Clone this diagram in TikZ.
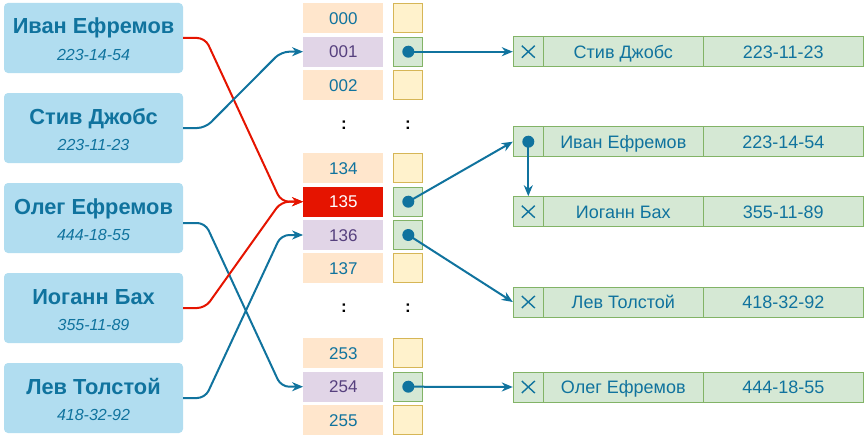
\documentclass[tikz,border=0pt]{standalone}
\usepackage{fontspec}
\setmainfont{Liberation Sans}
\usetikzlibrary{arrows.meta}
\definecolor{tblue}{HTML}{10739E}
\definecolor{tred}{HTML}{E51400}
\definecolor{boxblue}{HTML}{B1DDF0}
\definecolor{idxorange}{HTML}{FFE6CC}
\definecolor{idxpurple}{HTML}{E1D5E7}
\definecolor{txtpurple}{HTML}{56407E}
\definecolor{ptryellow}{HTML}{FFF2CC}
\definecolor{ptrline}{HTML}{D6B656}
\definecolor{recgreen}{HTML}{D5E8D4}
\definecolor{recline}{HTML}{82B366}
\begin{document}
\begin{tikzpicture}[x=1pt,y=-1pt,
	person/.style={fill=boxblue,rounded corners=4pt,minimum width=179pt,minimum height=70pt,inner sep=0pt},
	pname/.style={anchor=base,text=tblue,font=\fontsize{21.8}{22}\selectfont\bfseries},
	ptel/.style={anchor=base,text=tblue,font=\fontsize{16}{16}\selectfont\itshape},
	idx/.style={fill=idxorange,minimum width=80pt,minimum height=30pt,inner sep=0pt,text height=12.2pt,text depth=0pt,text=tblue,font=\fontsize{17}{17}\selectfont},
	idxsel/.style={idx,fill=idxpurple,text=txtpurple},
	idxhit/.style={idx,fill=tred,text=white},
	pempty/.style={draw=ptrline,fill=ptryellow,line width=1pt,minimum size=29pt,inner sep=0pt},
	pfull/.style={pempty,draw=recline,fill=recgreen},
	rec/.style={draw=recline,fill=recgreen,line width=1pt,minimum height=30pt,minimum width=160pt,inner sep=0pt,text height=12.9pt,text depth=0pt,text=tblue,font=\fontsize{18}{18}\selectfont},
	recptr/.style={rec,minimum width=30pt},
	ellip/.style={font=\fontsize{17}{17}\selectfont\bfseries},
	link/.style={tblue,line width=2pt,-{Stealth[length=11pt,width=9pt,inset=3.5pt]}},
	curvelink/.style={link,rounded corners=8pt}]
	\useasboundingbox (0,0) rectangle (864,436);
	
	\foreach \id/\name/\tel/\y in {ivan/Иван Ефремов/223-14-54/38, steve/Стив Джобс/223-11-23/128, oleg/Олег Ефремов/444-18-55/218, johann/Иоганн Бах/355-11-89/308, lev/Лев Толстой/418-32-92/398} {
		\node [person] (\id) at (93.5,\y) {};
		\node [pname,yshift=4pt] (\id-name) at (\id.center) {\name};
		\node [ptel,yshift=-22pt] (\id-tel) at (\id.center) {\tel};
	}
	
	\foreach \num/\y/\cell/\ptr in {000/18.3/idx/pempty, 001/51.7/idxsel/pfull, 002/85/idx/pempty, 134/168.3/idx/pempty, 135/201.7/idxhit/pfull, 136/235/idxsel/pfull, 137/268.3/idx/pempty, 253/353.3/idx/pempty, 254/386.7/idxsel/pfull, 255/420/idx/pempty} {
		\node [\cell] (h\num) at (343.3,\y) {\num};
		\node [\ptr] (p\num) at (408.3,\y) {};
	}
	\foreach \num in {001,135,136,254}
		\fill [tblue] (p\num.center) circle [radius=6pt];
	
	\node [ellip] (gap1) at (344,125) {:};
	\node [ellip] (gap2) at (408,125) {:};
	\node [ellip] (gap3) at (344,308) {:};
	\node [ellip] (gap4) at (408,308) {:};
	
	\foreach \id/\name/\tel/\y in {rsteve/Стив Джобс/223-11-23/51.7, rivan/Иван Ефремов/223-14-54/141.7, rjohann/Иоганн Бах/355-11-89/211.7, rlev/Лев Толстой/418-32-92/302, roleg/Олег Ефремов/444-18-55/387} {
		\node [recptr] (\id-ptr) at (528.3,\y) {};
		\node [rec] (\id-n) at (623.3,\y) {\name};
		\node [rec] (\id-t) at (783.3,\y) {\tel};
	}
	\foreach \id in {rsteve,rjohann,rlev,roleg}
		\draw [tblue,line width=1.4pt] ([shift={(-6.5pt,6pt)}]\id-ptr.center) -- ([shift={(6.5pt,-6pt)}]\id-ptr.center)
			([shift={(-6.5pt,-6pt)}]\id-ptr.center) -- ([shift={(6.5pt,6pt)}]\id-ptr.center);
	\fill [tblue] (rivan-ptr.center) circle [radius=6pt];
	
	\draw [curvelink,tred] (ivan.east) -- ++(22,0) -- ([xshift=-22pt]h135.west) -- (h135.west);
	\draw [curvelink] (steve.east) -- ++(22,0) -- ([xshift=-22pt]h001.west) -- (h001.west);
	\draw [curvelink] ([yshift=-5pt]oleg.east) -- ++(22,0) -- ([xshift=-22pt]h254.west) -- (h254.west);
	\draw [curvelink,tred] (johann.east) -- ++(22,0) -- ([xshift=-22pt]h135.west) -- (h135.west);
	\draw [curvelink] (lev.east) -- ++(22,0) -- ([xshift=-22pt]h136.west) -- (h136.west);
	
	\draw [link] (p001.center) -- (rsteve-ptr.west);
	\draw [link] (p135.center) -- (rivan-ptr.west);
	\draw [link] (rivan-ptr.center) -- (rjohann-ptr.north);
	\draw [link] (p136.center) -- (rlev-ptr.west);
	\draw [link] (p254.center) -- (roleg-ptr.west);
\end{tikzpicture}
\end{document}
